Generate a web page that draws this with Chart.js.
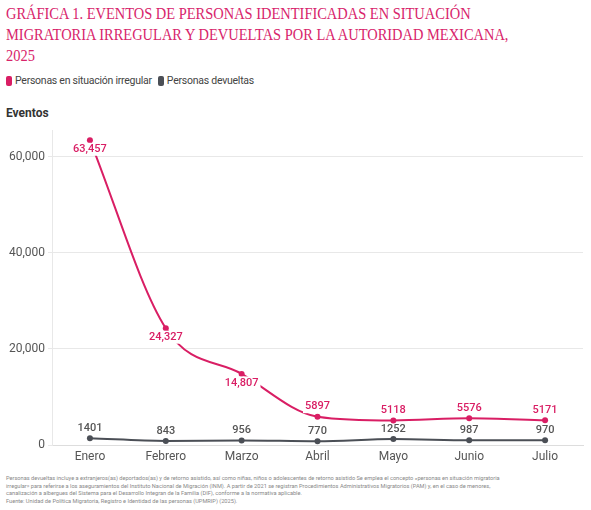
<!DOCTYPE html>
<html lang="es">
<head>
    <meta charset="UTF-8">
    <title>Gráfica 1</title>
    <style>
        body{
            margin: 0;
            background-color: #fff;
            font-family: Roboto, sans-serif;
            width: 591px;
            height: 510px;
            overflow: hidden;
            position: relative;
        }
        .title{
            position: absolute;
            left: 6px;
            top: 3px;
            width: 700px;
            font-family: "Liberation Serif", serif;
            font-size: 17px;
            line-height: 21px;
            color: #d8246b;
            transform: scaleX(0.85);
            transform-origin: left top;
            white-space: nowrap;
        }
        .legend{
            position: absolute;
            left: 6px;
            top: 74px;
            font-size: 10.5px;
            letter-spacing: -0.25px;
            color: #444;
            display: flex;
            align-items: center;
        }
        .legend span.box{
            display: inline-block;
            width: 6px;
            height: 10px;
            border-radius: 2px;
            margin-right: 3px;
        }
        .legend .item{
            display: flex;
            align-items: center;
            margin-right: 6px;
        }
        .axis-title{
            position: absolute;
            left: 6px;
            top: 106px;
            font-size: 12px;
            font-weight: bold;
            color: #333;
        }
        .chart-box{
            position: absolute;
            left: 0;
            top: 118px;
            width: 591px;
            height: 352px;
        }
        .note{
            position: absolute;
            left: 6px;
            top: 475px;
            font-size: 5.65px;
            line-height: 7.6px;
            color: #888;
            white-space: nowrap;
        }
    </style>
</head>
<body>
    <div class="title">
        GRÁFICA 1. EVENTOS DE PERSONAS IDENTIFICADAS EN SITUACIÓN<br>
        MIGRATORIA IRREGULAR Y DEVUELTAS POR LA AUTORIDAD MEXICANA,<br>
        2025
    </div>
    <div class="legend" id="legend"></div>
    <div class="axis-title">Eventos</div>
    <div class="chart-box"><canvas id="chart"></canvas></div>
    <div class="note">
        Personas devueltas incluye a extranjeros(as) deportados(as) y de retorno asistido, así como niñas, niños o adolescentes de retorno asistido Se emplea el concepto «personas en situación migratoria<br>
        irregular» para referirse a los aseguramientos del Instituto Nacional de Migración (INM). A partir de 2021 se registran Procedimientos Administrativos Migratorios (PAM) y, en el caso de menores,<br>
        canalización a albergues del Sistema para el Desarrollo Integran de la Familia (DIF), conforme a la normativa aplicable.<br>
        Fuente: Unidad de Política Migratoria, Registro e Identidad de las personas (UPMRIP) (2025).
    </div>

    <script src="https://cdn.jsdelivr.net/npm/chart.js"></script>
    <script>
        // Data
        const months = ['Enero', 'Febrero', 'Marzo', 'Abril', 'Mayo', 'Junio', 'Julio'];
        const irregular = [63457, 24327, 14807, 5897, 5118, 5576, 5171];
        const devueltas = [1401, 843, 956, 770, 1252, 987, 970];
        const yTicks = [0, 20000, 40000, 60000];

        const pink = '#d91e64';
        const dark = '#4b4f56';

        // Legend built in HTML
        const legend = document.getElementById('legend');
        [['Personas en situación irregular', pink], ['Personas devueltas', dark]].forEach(([name, color]) => {
            const item = document.createElement('div');
            item.className = 'item';
            item.innerHTML = '<span class="box" style="background:' + color + '"></span>' + name;
            legend.appendChild(item);
        });

        // Value labels next to each point
        const valueLabels = {
            id: 'valueLabels',
            afterDatasetsDraw(chart) {
                const ctx = chart.ctx;
                ctx.save();
                ctx.font = '500 11px Roboto';
                ctx.textAlign = 'center';
                ctx.textBaseline = 'middle';
                chart.data.datasets.forEach((ds, di) => {
                    const meta = chart.getDatasetMeta(di);
                    meta.data.forEach((pt, i) => {
                        const v = ds.data[i];
                        const text = v >= 10000 ? v.toLocaleString('en-US') : String(v);
                        const below = di === 0 && i < 3;
                        const y = below ? pt.y + 9 : pt.y - 10;
                        if (di === 0) {
                            const w = ctx.measureText(text).width;
                            ctx.fillStyle = '#fff';
                            ctx.fillRect(pt.x - w / 2 - 2, y - 6.5, w + 4, 13);
                        }
                        ctx.fillStyle = di === 0 ? pink : '#555';
                        ctx.fillText(text, pt.x, y);
                    });
                });
                ctx.restore();
            }
        };

        const chart = new Chart(document.getElementById('chart'), {
            type: 'line',
            data: {
                labels: months,
                datasets: [{
                    label: 'Personas en situación irregular',
                    data: irregular,
                    borderColor: pink,
                    backgroundColor: pink,
                    borderWidth: 2,
                    pointRadius: 3,
                    pointBorderWidth: 0,
                    cubicInterpolationMode: 'monotone'
                }, {
                    label: 'Personas devueltas',
                    data: devueltas,
                    borderColor: dark,
                    backgroundColor: dark,
                    borderWidth: 2,
                    pointRadius: 3,
                    pointBorderWidth: 0,
                    cubicInterpolationMode: 'monotone'
                }]
            },
            options: {
                responsive: true,
                maintainAspectRatio: false,
                animation: false,
                layout: { padding: { top: 12, right: 8 } },
                plugins: {
                    legend: { display: false },
                    tooltip: { enabled: false }
                },
                scales: {
                    x: {
                        offset: true,
                        grid: { display: false, drawTicks: false },
                        border: { color: '#dddddd' },
                        ticks: { color: '#555', font: { family: 'Roboto', size: 12 }, padding: 5 },
                        afterFit(scale) { scale.height = 25; }
                    },
                    y: {
                        min: 0,
                        max: 65600,
                        grid: { color: '#e8e8e8', tickLength: 4 },
                        border: { color: '#e8e8e8' },
                        ticks: {
                            stepSize: 20000,
                            color: '#555',
                            padding: 3,
                            font: { family: 'Roboto', size: 12 },
                            callback: v => v.toLocaleString('en-US')
                        },
                        afterBuildTicks(scale) {
                            scale.ticks = yTicks.map(v => ({ value: v }));
                        },
                        afterFit(scale) { scale.width = 52; }
                    }
                }
            },
            plugins: [valueLabels]
        });
    </script>
</body>
</html>
